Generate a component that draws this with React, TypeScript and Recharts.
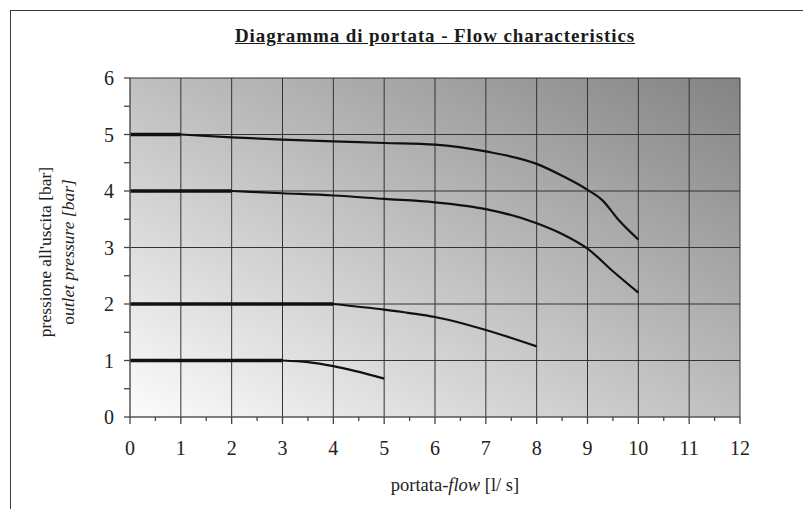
import React from 'react';
import { LineChart, Line, XAxis, YAxis, CartesianGrid } from 'recharts';

// curves: first two points are the flat (thick) part
const flow1 = [0, 3, 3.5, 4, 5];
const bar1 = [1, 1, 0.97, 0.9, 0.68];
const flow2 = [0, 4, 5, 5.5, 6, 7, 8];
const bar2 = [2, 2, 1.9, 1.84, 1.77, 1.54, 1.25];
const flow4 = [0, 2, 3, 4, 5, 6, 7, 8, 8.5, 9, 9.5, 10];
const bar4 = [4, 4, 3.96, 3.92, 3.86, 3.8, 3.68, 3.43, 3.24, 2.98, 2.58, 2.2];
const flow5 = [0, 1, 2, 3, 4, 5, 6, 7, 8, 8.5, 9, 9.3, 9.6, 10];
const bar5 = [5, 5, 4.95, 4.91, 4.88, 4.85, 4.82, 4.7, 4.48, 4.27, 4.02, 3.83, 3.5, 3.14];

const xTicks = [0, 0.5, 1, 1.5, 2, 2.5, 3, 3.5, 4, 4.5, 5, 5.5, 6, 6.5, 7, 7.5, 8, 8.5, 9, 9.5, 10, 10.5, 11, 11.5, 12];
const yTicks = [0, 0.5, 1, 1.5, 2, 2.5, 3, 3.5, 4, 4.5, 5, 5.5, 6];
const xGrid = [1, 2, 3, 4, 5, 6, 7, 8, 9, 10, 11, 12];
const yGrid = [1, 2, 3, 4, 5, 6];

const serif = '"Liberation Serif", "Times New Roman", serif';

const toPoints = (xs: number[], ys: number[]) => xs.map((x, i) => ({ x, y: ys[i] }));

const curves = [
  toPoints(flow1, bar1),
  toPoints(flow2, bar2),
  toPoints(flow4, bar4),
  toPoints(flow5, bar5),
];

const XTick = (props: any) => {
  const { x, y, payload } = props;
  const major = Number.isInteger(payload.value);
  return (
    <g>
      <line x1={x} x2={x} y1={y} y2={y + (major ? 7 : 4)} stroke="#444" strokeWidth={1.3} />
      {major && (
        <text x={x} y={y + 38} textAnchor="middle" fontSize={20} fill="#222" fontFamily={serif}>
          {payload.value}
        </text>
      )}
    </g>
  );
};

const YTick = (props: any) => {
  const { x, y, payload } = props;
  const major = Number.isInteger(payload.value);
  return (
    <g>
      <line x1={x - 6} x2={x} y1={y} y2={y} stroke="#444" strokeWidth={1.3} />
      {major && (
        <text x={x - 16} y={y + 7} textAnchor="end" fontSize={20} fill="#222" fontFamily={serif}>
          {payload.value}
        </text>
      )}
    </g>
  );
};

const App: React.FC = () => {
  return (
    <div
      style={{
        position: 'fixed',
        left: 0,
        top: 0,
        width: 803,
        height: 509,
        background: '#fff',
        overflow: 'hidden',
        fontFamily: serif,
        color: '#222',
      }}
    >
      {/* page frame */}
      <div
        style={{
          position: 'absolute',
          left: 10,
          top: 10,
          width: 820,
          height: 520,
          borderTop: '1.5px solid #3a3a3a',
          borderLeft: '1.5px solid #3a3a3a',
        }}
      />
      <div
        style={{
          position: 'absolute',
          left: 435,
          top: 26,
          transform: 'translateX(-50%)',
          whiteSpace: 'nowrap',
          fontSize: 19,
          lineHeight: '20px',
          fontWeight: 'bold',
          textDecoration: 'underline',
          letterSpacing: 0.9,
          color: '#1a1a1a',
        }}
      >
        Diagramma di portata - Flow characteristics
      </div>
      <div style={{ position: 'absolute', left: 0, top: 0 }}>
        <LineChart
          width={803}
          height={509}
          margin={{ top: 78, right: 63, bottom: 62, left: 100 }}
        >
          <defs>
            <linearGradient id="bgGrad" x1="0" y1="1" x2="1" y2="0">
              <stop offset="0%" stopColor="#fcfcfc" />
              <stop offset="100%" stopColor="#838383" />
            </linearGradient>
          </defs>
          <CartesianGrid
            fill="url(#bgGrad)"
            fillOpacity={1}
            stroke="#333"
            strokeWidth={1}
            horizontalValues={yGrid}
            verticalValues={xGrid}
          />
          <XAxis
            type="number"
            dataKey="x"
            domain={[0, 12]}
            ticks={xTicks}
            interval={0}
            height={30}
            tickSize={0}
            tickMargin={0}
            tick={<XTick />}
            axisLine={{ stroke: '#555', strokeWidth: 1.5 }}
            allowDataOverflow
          />
          <YAxis
            type="number"
            domain={[0, 6]}
            ticks={yTicks}
            interval={0}
            width={30}
            tickSize={0}
            tickMargin={0}
            tick={<YTick />}
            axisLine={{ stroke: '#555', strokeWidth: 1.5 }}
            allowDataOverflow
          />
          {curves.map((pts, i) => (
            <Line
              key={`flat-${i}`}
              data={pts.slice(0, 2)}
              dataKey="y"
              type="linear"
              stroke="#111"
              strokeWidth={3.5}
              dot={false}
              activeDot={false}
              isAnimationActive={false}
            />
          ))}
          {curves.map((pts, i) => (
            <Line
              key={`curve-${i}`}
              data={pts.slice(1)}
              dataKey="y"
              type="monotone"
              stroke="#111"
              strokeWidth={2.2}
              dot={false}
              activeDot={false}
              isAnimationActive={false}
            />
          ))}
        </LineChart>
      </div>
      {/* y axis title */}
      <div
        style={{
          position: 'absolute',
          left: 57,
          top: 252,
          transform: 'translate(-50%, -50%) rotate(-90deg)',
          whiteSpace: 'nowrap',
          textAlign: 'center',
          fontSize: 17.5,
          lineHeight: '23px',
        }}
      >
        <div>pressione all'uscita [bar]</div>
        <div>
          o<i>utlet pressure [bar]</i>
        </div>
      </div>
      {/* x axis title */}
      <div
        style={{
          position: 'absolute',
          left: 455,
          top: 474,
          transform: 'translateX(-50%)',
          whiteSpace: 'nowrap',
          fontSize: 18.5,
          lineHeight: '22px',
        }}
      >
        portata-<i>flow</i> [l/ s]
      </div>
    </div>
  );
};

export default App;
